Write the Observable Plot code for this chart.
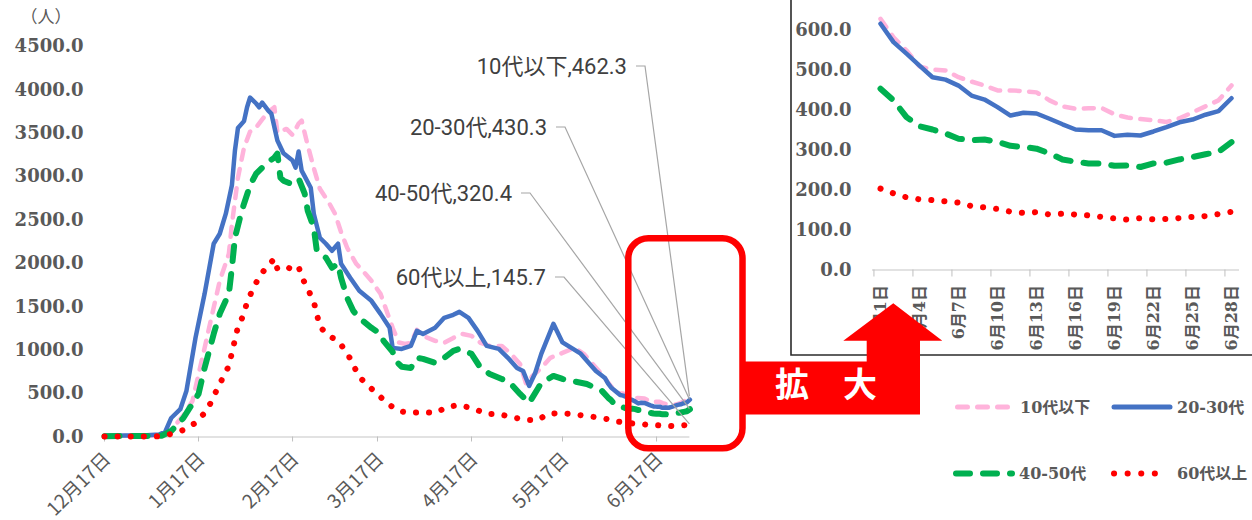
<!DOCTYPE html>
<html><head><meta charset="utf-8">
<script src="https://cdn.jsdelivr.net/npm/d3@7"></script>
<script src="https://cdn.jsdelivr.net/npm/@observablehq/plot@0.6"></script>
<style>
body{margin:0;background:#fff;}
#wrap{position:relative;width:1252px;height:520px;overflow:hidden;background:#fff;}
#main{position:absolute;left:0;top:0;}
#inset{position:absolute;left:791px;top:0;}
#overlay{position:absolute;left:0;top:0;pointer-events:none;}
</style></head><body>
<div id="wrap"><div id="main"></div><div id="inset"></div><svg id="overlay" width="1252" height="520"></svg></div>
<script>
// ---------- data ----------
const seriesNames = ["10代以下", "20-30代", "40-50代", "60代以上"];

const dates10 = ["12-17","12-31","01-05","01-08","01-12","01-15","01-19","01-21","01-24","01-27","01-28","01-30","02-01","02-03","02-05","02-07","02-09","02-11","02-12","02-15","02-17","02-19","02-20","02-22","02-24","02-26","03-01","03-03","03-05","03-07","03-10","03-13","03-15","03-18","03-20","03-22","03-24","03-26","03-28","03-30","04-01","04-05","04-08","04-11","04-14","04-17","04-20","04-23","04-27","04-30","05-03","05-05","05-07","05-10","05-13","05-17","05-21","05-24","05-29","05-31"];
const vals10 = [12,15,20,80,250,415,1027,1338,1800,2111,2450,2989,3335,3520,3566,3660,3745,3800,3508,3550,3480,3612,3646,3360,3100,2860,2700,2573,2360,2181,1996,1881,1800,1650,1454,1258,1090,1073,1085,1235,1165,1108,1085,1142,1188,1165,1085,1050,1050,958,842,611,700,796,912,969,1027,958,761,680];

const dates20 = ["12-17","12-24","12-31","01-04","01-06","01-08","01-11","01-13","01-16","01-19","01-22","01-24","01-26","01-28","01-29","01-30","02-01","02-02","02-03","02-05","02-06","02-07","02-09","02-10","02-12","02-14","02-17","02-18","02-19","02-20","02-23","02-24","02-26","02-28","03-02","03-04","03-05","03-08","03-11","03-15","03-18","03-21","03-22","03-25","03-28","03-30","04-01","04-05","04-08","04-11","04-13","04-16","04-19","04-22","04-26","04-29","05-02","05-04","05-06","05-08","05-10","05-14","05-17","05-23","05-28","05-31"];
const vals20 = [15,18,20,28,60,219,320,530,1142,1650,2227,2342,2573,2900,3300,3560,3640,3800,3912,3843,3800,3854,3762,3727,3416,3270,3185,3104,3290,3070,2873,2573,2296,2227,2146,2227,1996,1835,1685,1569,1419,1258,1027,1015,1050,1223,1188,1258,1373,1408,1442,1373,1223,1050,1015,912,796,761,588,738,958,1304,1090,960,761,680];

const dates40 = ["12-17","12-31","01-05","01-08","01-12","01-17","01-19","01-22","01-24","01-27","01-28","01-29","01-31","02-01","02-03","02-05","02-07","02-09","02-11","02-12","02-13","02-14","02-16","02-19","02-21","02-22","02-24","02-25","02-28","03-02","03-04","03-05","03-07","03-09","03-11","03-15","03-18","03-19","03-22","03-23","03-25","03-28","03-30","04-01","04-05","04-08","04-11","04-13","04-17","04-20","04-23","04-27","04-30","05-03","05-06","05-09","05-10","05-14","05-17","05-25","05-30"];
const vals40 = [10,12,15,69,219,496,796,1188,1419,1650,1950,2296,2573,2688,2900,3035,3104,3170,3219,3265,2989,2954,2925,2980,2804,2608,2412,2146,2066,1950,1996,1835,1604,1454,1373,1258,1188,1108,980,877,810,796,912,900,854,912,992,1015,958,796,727,669,611,496,392,565,623,704,669,611,531];

const dates60 = ["12-17","12-24","12-31","01-04","01-08","01-12","01-16","01-19","01-21","01-23","01-25","01-27","01-28","01-29","01-30","02-01","02-02","02-04","02-06","02-08","02-11","02-12","02-15","02-17","02-19","02-20","02-22","02-24","02-25","02-26","03-01","03-04","03-07","03-09","03-11","03-14","03-17","03-20","03-24","03-28","04-01","04-05","04-09","04-13","04-18","04-22","04-26","04-30","05-05","05-09","05-12","05-16","05-20","05-25","05-30"];
const vals60 = [5,5,6,8,35,81,162,277,392,542,681,819,969,1119,1269,1419,1558,1708,1846,1938,2054,1938,1962,1927,1962,1846,1708,1558,1419,1269,1165,1108,969,831,692,588,496,392,300,277,288,277,346,369,323,265,265,231,196,196,265,277,265,242,219];

// June (daily), shown in the enlarged inset
const juneDays = [1,2,3,4,5,6,7,8,9,10,11,12,13,14,15,16,17,18,19,20,21,22,23,24,25,26,27,28];
const june10 = [629,583,550,510,502,500,483,472,462,450,450,448,445,425,410,404,405,406,390,382,378,375,371,380,395,410,425,462.3];
const june20 = [617,571,542,512,483,477,462,437,427,408,387,394,392,379,365,352,350,350,336,339,337,347,358,370,377,389,398,430.3];
const june40 = [454,425,383,360,352,342,329,325,327,321,311,308,304,292,277,271,267,267,261,262,258,267,269,277,283,290,296,320.4];
const june60 = [204,192,182,177,175,172,169,160,157,153,146,143,145,139,141,139,137,133,129,126,130,127,128,130,133,135,140,145.7];

// tick labels
const monthTicks = ["12-17","01-17","02-17","03-17","04-17","05-17","06-17"];
const yTicksMain = [0,500,1000,1500,2000,2500,3000,3500,4000,4500];
const yTicksInset = [0,100,200,300,400,500,600];
const insetTickDays = [1,4,7,10,13,16,19,22,25,28];
const unitLabel = "（人）";
const zoomLabel = "拡　大";

// ---------- build ----------
const parse = s => { const [m, d] = s.split("-").map(Number); return new Date(Date.UTC(m === 12 ? 2021 : 2022, m - 1, d)); };
const preDates = [dates10, dates20, dates40, dates60];
const preVals = [vals10, vals20, vals40, vals60];
const juneVals = [june10, june20, june40, june60];

const styles = [
  {stroke: "#FFB3DB", strokeWidth: 4.5, strokeDasharray: "10,9.5"},
  {stroke: "#4472C4", strokeWidth: 4.5, strokeDasharray: null},
  {stroke: "#00B050", strokeWidth: 6, strokeDasharray: "15,13"},
  {stroke: "#FF0000", strokeWidth: 6, strokeDasharray: "0.1,13"}
];

const series = seriesNames.map((name, i) => {
  const pre = preDates[i].map((d, j) => ({date: parse(d), value: preVals[i][j]}));
  const jun = juneDays.map((d, j) => ({date: new Date(Date.UTC(2022, 5, d)), day: d, value: juneVals[i][j]}));
  return {name, all: pre.concat(jun), june: jun};
});

const serif = "'DejaVu Serif', 'Noto Sans CJK JP', serif";
const sans = "'Noto Sans CJK JP', sans-serif";
const fmtMD = d => `${d.getUTCMonth() + 1}月${d.getUTCDate()}日`;

const lineMarks = (key, x) => series.map((s, i) => Plot.line(s[key], {
  x, y: "value", stroke: styles[i].stroke, strokeWidth: styles[i].strokeWidth,
  strokeDasharray: styles[i].strokeDasharray, strokeLinecap: "round", strokeLinejoin: "round"
}));

const monthTickDates = monthTicks.map(parse);

const mainPlot = Plot.plot({
  width: 745, height: 520,
  marginLeft: 104, marginRight: 55.6, marginTop: 46, marginBottom: 83.5,
  style: {background: "transparent", color: "#595959", overflow: "visible"},
  x: {type: "utc", domain: [parse("12-17"), parse("06-28")], label: null},
  y: {domain: [0, 4500], label: null},
  marks: [
    Plot.axisY({ticks: yTicksMain, tickFormat: d => d.toFixed(1), tickSize: 0, tickPadding: 21,
      fontSize: 18, fontWeight: "bold", fontFamily: serif, fill: "#595959", label: null}),
    Plot.ruleY([0], {stroke: "#d9d9d9", strokeWidth: 1.5}),
    Plot.axisX({ticks: monthTickDates, tickFormat: () => "", tickSize: 5, stroke: "#bfbfbf", label: null}),
    Plot.text(monthTickDates, {x: d => d, text: fmtMD, frameAnchor: "bottom", dx: 3, dy: 19,
      rotate: -45, textAnchor: "end", lineAnchor: "middle",
      fontSize: 19, fontFamily: sans, fill: "#595959"}),
    ...lineMarks("all", "date")
  ]
});
document.getElementById("main").appendChild(mainPlot);

// callouts at the last data point (positions via the plot's own scales)
const sx = mainPlot.scale("x"), sy = mainPlot.scale("y");
const calloutLayout = [{tx: 627, ty: 66}, {tx: 547, ty: 127}, {tx: 512, ty: 193}, {tx: 546, ty: 277}];
const cg = d3.select(mainPlot).append("g");
series.forEach((s, i) => {
  const last = s.all[s.all.length - 1];
  const px = sx.apply(last.date), py = sy.apply(last.value);
  const {tx, ty} = calloutLayout[i];
  cg.append("polyline")
    .attr("points", `${tx + 9},${ty} ${tx + 18},${ty} ${px},${py}`)
    .attr("fill", "none").attr("stroke", "#a6a6a6").attr("stroke-width", 1.2);
  cg.append("text").attr("x", tx).attr("y", ty).attr("dy", "0.36em")
    .attr("text-anchor", "end").style("font-size", "22px")
    .style("font-family", "Roboto, 'Noto Sans CJK JP', sans-serif").attr("fill", "#404040")
    .text(`${s.name},${last.value.toFixed(1)}`);
});

// inset (June, enlarged)
const insetPlot = Plot.plot({
  width: 461, height: 355,
  marginLeft: 81, marginRight: 13, marginTop: 30, marginBottom: 85.5,
  style: {background: "transparent", color: "#595959", overflow: "visible"},
  x: {type: "point", domain: juneDays, padding: 0.5, label: null},
  y: {domain: [0, 600], label: null},
  marks: [
    Plot.axisY({ticks: yTicksInset, tickFormat: d => d.toFixed(1), tickSize: 0, tickPadding: 21,
      fontSize: 18, fontWeight: "bold", fontFamily: serif, fill: "#595959", label: null}),
    Plot.ruleY([0], {stroke: "#d9d9d9", strokeWidth: 1.5}),
    Plot.axisX({ticks: insetTickDays, tickSize: 7, tickFormat: () => "", dx: -367 / 28 / 2,
      stroke: "#bfbfbf", label: null}),
    Plot.axisX({ticks: insetTickDays, tickSize: 0, tickPadding: 15, tickRotate: -90,
      tickFormat: d => `6月${d}日`, fontSize: 16, fontWeight: "bold", fontFamily: serif,
      fill: "#595959", label: null}),
    ...lineMarks("june", "day")
  ]
});
document.getElementById("inset").appendChild(insetPlot);

// ---------- decorations ----------
const ov = d3.select("#overlay");
// unit label
ov.append("text").attr("x", 46).attr("y", 17).attr("dy", "0.36em").attr("text-anchor", "middle")
  .style("font-size", "17px").style("font-family", sans).attr("fill", "#595959").text(unitLabel);
// inset frame
ov.append("path").attr("d", "M791,-2 V355 H1254").attr("fill", "none")
  .attr("stroke", "#2b2b2b").attr("stroke-width", 1.6);
// red highlight box
ov.append("rect").attr("x", 628.3).attr("y", 238.3).attr("width", 114.2).attr("height", 210)
  .attr("rx", 20).attr("fill", "none").attr("stroke", "#FF0000").attr("stroke-width", 6.5);
// arrow
ov.append("path").attr("d", "M742,361.5 H866.7 V340.7 H843.3 L893.3,303.3 L942.3,340.7 H920 V414.5 H742 Z")
  .attr("fill", "#FF0000");
ov.append("text").attr("x", 826).attr("y", 385).attr("dy", "0.36em").attr("text-anchor", "middle")
  .style("font-size", "34px").attr("font-weight", "bold").style("font-family", sans).attr("fill", "#fff")
  .text(zoomLabel);

// legend
const legendLayout = [
  {x1: 957.5, x2: 1007.5, y: 407, tx: 1020},
  {x1: 1114, x2: 1170, y: 407, tx: 1177},
  {x1: 956, x2: 1012, y: 473.5, tx: 1019},
  {x1: 1114, x2: 1168.2, y: 473.5, tx: 1177}
];
const legendStyles = [
  {w: 5, dash: "10,10"}, {w: 5, dash: null}, {w: 6, dash: "14,13"}, {w: 6, dash: "0.1,13.5"}
];
seriesNames.forEach((name, i) => {
  const L = legendLayout[i], S = legendStyles[i];
  const ln = ov.append("line").attr("x1", L.x1).attr("x2", L.x2).attr("y1", L.y).attr("y2", L.y)
    .attr("stroke", styles[i].stroke).attr("stroke-width", S.w).attr("stroke-linecap", "round");
  if (S.dash) ln.attr("stroke-dasharray", S.dash);
  ov.append("text").attr("x", L.tx).attr("y", L.y).attr("dy", "0.36em")
    .style("font-size", "16px").attr("font-weight", "bold").style("font-family", serif).attr("fill", "#595959")
    .text(name);
});
</script>
</body></html>
